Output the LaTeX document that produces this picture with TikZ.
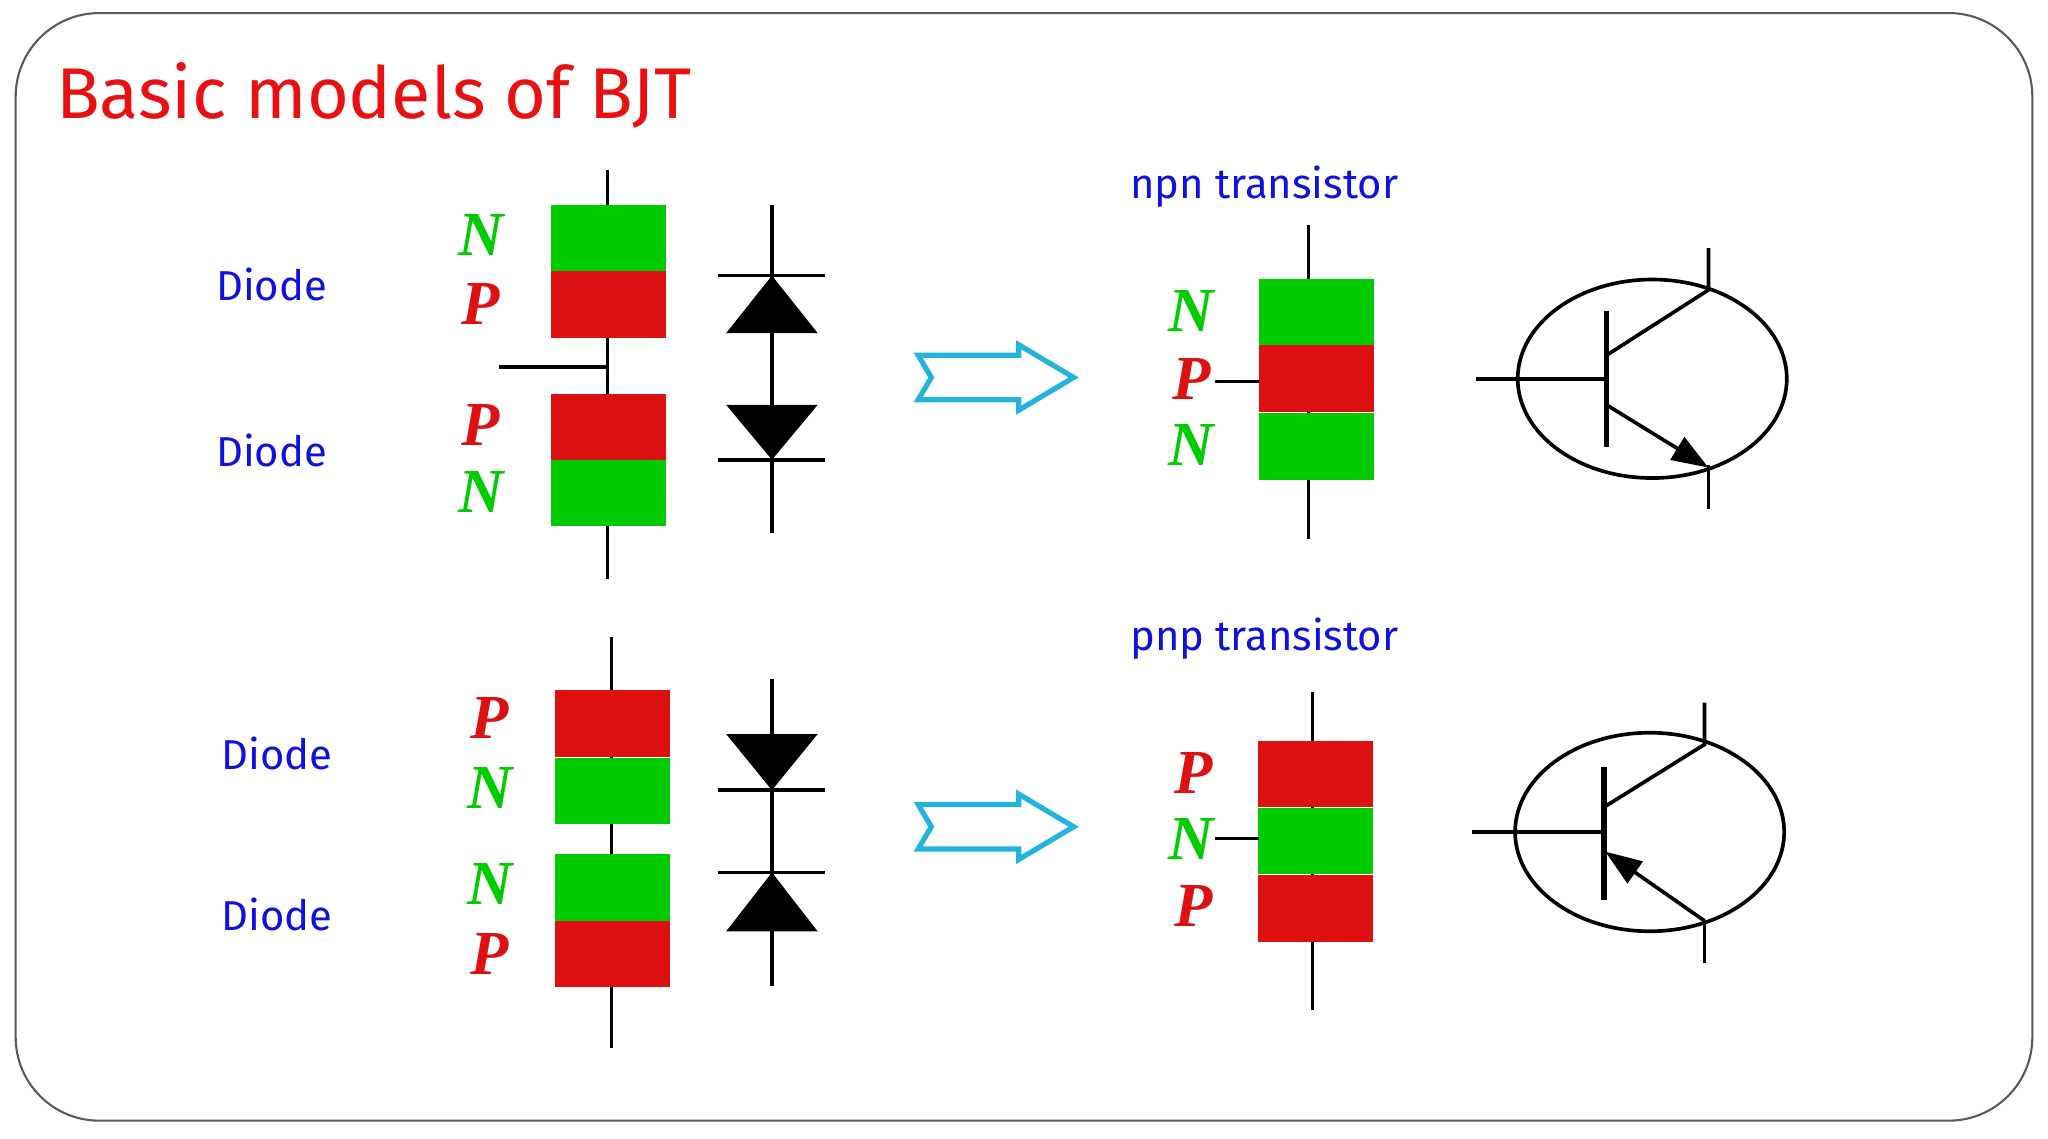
\documentclass[tikz,border=0pt]{standalone}
\usepackage{fontspec}
\setmainfont{Fira Sans}
\newfontfamily\npfont{Liberation Serif}
\usetikzlibrary{arrows.meta}
\definecolor{tred}{HTML}{E81010}
\definecolor{bred}{HTML}{DD1111}
\definecolor{bgreen}{HTML}{00CC00}
\definecolor{tblue}{HTML}{1010E0}
\definecolor{tcyan}{HTML}{22B4DC}
\tikzset{
 blk/.style={minimum width=44pt,minimum height=25.5pt,inner sep=0,outer sep=0},
 rb/.style={blk,fill=bred},
 gb/.style={blk,fill=bgreen},
 lead/.style={line width=1.3pt},
 nl/.style={font=\npfont\bfseries\itshape\fontsize{24}{24}\selectfont},
 dl/.style={text=tblue,font=\fontsize{16}{16}\selectfont},
 tl/.style={text=tblue,font=\fontsize{16}{16}\selectfont},
 hollow/.style={draw=tcyan,line width=2pt,fill=white},
 sym/.style={line width=1.4pt},
}
\begin{document}
\begin{tikzpicture}[x=0.5pt,y=-0.5pt]
\useasboundingbox (0,0) rectangle (1568,872);
\draw[gray!70!black,line width=0.8pt,rounded corners=32] (12,10) rectangle (1556,858);
\node[anchor=west,text=tred,font=\fontsize{27.5}{28}\selectfont] (title) at (36,73) {Basic models of BJT};

% ---------- top left stack
\coordinate (t1a) at (465,130); \coordinate (t1b) at (465,443);
\draw[lead] (t1a) -- (t1b);
\node[gb] (g1) at (466,182.5) {};
\node[rb] (r1) at (466,233) {};
\node[rb] (r2) at (466,327) {};
\node[gb] (g2) at (466,377.5) {};
\coordinate (h1) at (382,281); \coordinate (h1e) at (465,281);
\draw[lead] (h1) -- (h1e);
\node[nl,text=bgreen] at (368,180) {N};
\node[nl,text=bred] at (368,233) {P};
\node[nl,text=bred] at (368,325) {P};
\node[nl,text=bgreen] at (368,377) {N};
\node[dl] (d1) at (208,218) {Diode};
\node[dl] (d2) at (208,345) {Diode};
% diode symbols
\draw[sym] (591,157) -- (591,408);
\draw[sym] (550,211) -- (632,211);
\fill (591,211) -- (556,255) -- (626,255) -- cycle;
\fill (591,352) -- (556,310) -- (626,310) -- cycle;
\draw[sym] (550,352) -- (632,352);
% hollow arrow
\draw[hollow] (703,272) -- (780,272) -- (780,264) -- (822,289) -- (780,314) -- (780,306) -- (703,306) -- (713,289) -- cycle;

% ---------- npn
\node[tl] (npn) at (968,143) {npn transistor};
\draw[lead] (1002,172) -- (1002,413);
\node[gb] (g3) at (1008,239) {};
\node[rb] (r3) at (1008,290) {};
\node[gb] (g4) at (1008,342) {};
\draw[lead] (930,292) -- (r3.west|-930,292);
\node[nl,text=bgreen] at (912,238) {N};
\node[nl,text=bred] at (912,290) {P};
\node[nl,text=bgreen] at (912,341) {N};
\draw[sym] (1265,290) ellipse [x radius=103,y radius=76];
\draw[sym] (1130,290) -- (1230,290);
\draw[line width=2pt] (1230,238) -- (1230,342);
\draw[sym] (1230,272) -- (1308,222) -- (1308,190);
\draw[sym,-{Triangle[length=14pt,width=10pt]}] (1230,310) -- (1308,358);
\draw[sym] (1308,356) -- (1308,390);

% ---------- bottom left stack
\draw[lead] (468,488) -- (468,802);
\node[rb] (r5) at (469,554) {};
\node[gb] (g5) at (469,605.5) {};
\node[gb] (g6) at (469,679.5) {};
\node[rb] (r6) at (469,730.5) {};
\node[nl,text=bred] at (375,550) {P};
\node[nl,text=bgreen] at (375,603) {N};
\node[nl,text=bgreen] at (375,677) {N};
\node[nl,text=bred] at (375,730) {P};
\node[dl] (d3) at (212,577) {Diode};
\node[dl] (d4) at (212,700) {Diode};
\draw[sym] (591,520) -- (591,755);
\fill (591,605) -- (556,562) -- (626,562) -- cycle;
\draw[sym] (550,605) -- (632,605);
\draw[sym] (550,668) -- (632,668);
\fill (591,668) -- (556,713) -- (626,713) -- cycle;
\draw[hollow] (703,616) -- (780,616) -- (780,608) -- (822,633) -- (780,658) -- (780,650) -- (703,650) -- (713,633) -- cycle;

% ---------- pnp
\node[tl] (pnp) at (968,489) {pnp transistor};
\draw[lead] (1005,530) -- (1005,773);
\node[rb] (r7) at (1007.5,592.5) {};
\node[gb] (g7) at (1007.5,644) {};
\node[rb] (r8) at (1007.5,695.5) {};
\draw[lead] (930,642) -- (964,642);
\node[nl,text=bred] at (914,592) {P};
\node[nl,text=bgreen] at (912,642) {N};
\node[nl,text=bred] at (914,694) {P};
\draw[sym] (1263,637) ellipse [x radius=103,y radius=76];
\draw[sym] (1127,637) -- (1228,637);
\draw[line width=2pt] (1228,587) -- (1228,689);
\draw[sym] (1228,618) -- (1305,570) -- (1305,538);
\draw[sym,-{Triangle[length=14pt,width=10pt]}] (1305,705) -- (1229,652);
\draw[sym] (1305,705) -- (1305,737);
\end{tikzpicture}
\end{document}
